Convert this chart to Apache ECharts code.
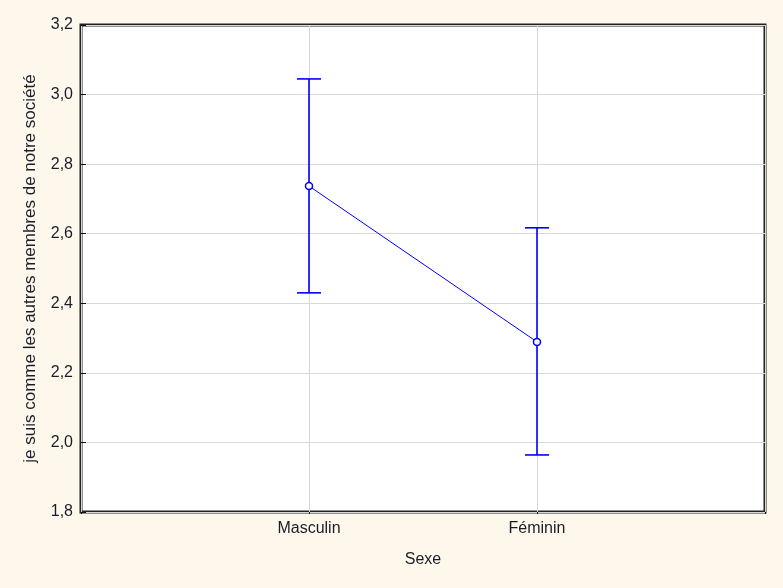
<!DOCTYPE html>
<html>
<head>
<meta charset="utf-8">
<script src="https://cdn.jsdelivr.net/npm/echarts@6/dist/echarts.min.js"></script>
<style>
html,body{margin:0;padding:0;background:#FEF8EC;}
#c{width:783px;height:588px;}
</style>
</head>
<body>
<div id="c"></div>
<script>
var categories = ['', 'Masculin', 'Féminin', ''];
var means = [null, 2.737, 2.289, null];
var upper = [null, 3.045, 2.617, null];
var lower = [null, 2.430, 1.964, null];
var yTicks = [1.8, 2.0, 2.2, 2.4, 2.6, 2.8, 3.0, 3.2];

var errData = [];
for (var i = 0; i < categories.length; i++) {
  if (means[i] !== null) errData.push([i, lower[i], upper[i]]);
}
var fontFam = '"Liberation Sans", Arial, sans-serif';
var txtCol = '#1c1c28';
var chart = echarts.init(document.getElementById('c'));
chart.setOption({
  backgroundColor: '#FEF8EC',
  animation: false,
  grid: {left: 81, right: 18, top: 25, bottom: 76, show: true, backgroundColor: '#fff', borderColor: '#222', borderWidth: 3},
  xAxis: {
    type: 'category', data: categories, boundaryGap: false,
    name: 'Sexe', nameLocation: 'middle', nameGap: 40,
    nameTextStyle: {fontFamily: fontFam, fontSize: 16, color: txtCol},
    axisLine: {show: false},
    axisTick: {show: true, length: 2, lineStyle: {color: '#111'}, alignWithLabel: true},
    axisLabel: {fontFamily: fontFam, fontSize: 16, color: txtCol, margin: 9},
    splitLine: {show: true, lineStyle: {color: '#d8d8d8', width: 1}}
  },
  yAxis: {
    type: 'value', min: yTicks[0], max: yTicks[yTicks.length - 1], interval: 0.2,
    name: 'je suis comme les autres membres de notre société', nameLocation: 'middle', nameGap: 42,
    nameTextStyle: {fontFamily: fontFam, fontSize: 17, color: txtCol},
    axisLine: {show: false},
    axisTick: {show: true, inside: true, length: 5, lineStyle: {color: '#111'}},
    axisLabel: {fontFamily: fontFam, fontSize: 16, color: txtCol, margin: 8,
      formatter: function (v) { return v.toFixed(1).replace('.', ','); }},
    splitLine: {show: true, lineStyle: {color: '#d8d8d8', width: 1}}
  },
  series: [
    {
      type: 'custom',
      data: errData,
      renderItem: function (params, api) {
        var x = api.value(0);
        var lo = api.coord([x, api.value(1)]);
        var hi = api.coord([x, api.value(2)]);
        var hw = 12;
        var st = {stroke: '#0000FF', lineWidth: 1.6};
        return {type: 'group', children: [
          {type: 'line', shape: {x1: lo[0], y1: lo[1], x2: hi[0], y2: hi[1]}, style: st},
          {type: 'line', shape: {x1: lo[0] - hw, y1: lo[1], x2: lo[0] + hw, y2: lo[1]}, style: st},
          {type: 'line', shape: {x1: hi[0] - hw, y1: hi[1], x2: hi[0] + hw, y2: hi[1]}, style: st}
        ]};
      },
      z: 2
    },
    {
      type: 'line',
      data: means,
      connectNulls: false,
      symbol: 'circle', symbolSize: 7,
      itemStyle: {color: '#fff', borderColor: '#0000FF', borderWidth: 1.5},
      lineStyle: {color: '#0000FF', width: 1},
      z: 3
    }
  ]
});
</script>
</body>
</html>
